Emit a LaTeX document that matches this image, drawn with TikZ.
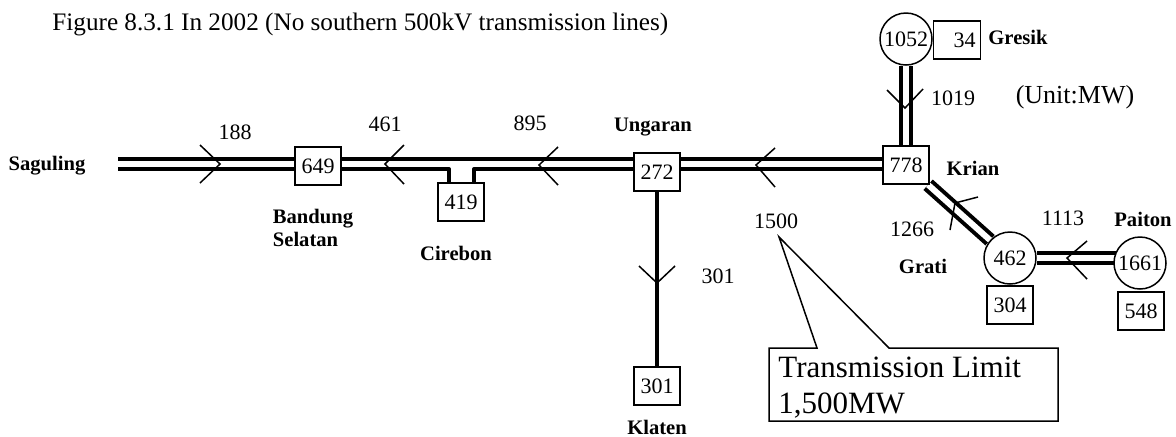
\documentclass[tikz,border=0pt]{standalone}
\usepackage{fontspec}
\setmainfont{Liberation Serif}
\usetikzlibrary{calc,backgrounds}
\begin{document}
\begin{tikzpicture}[x=0.5pt,y=-0.5pt,
  box/.style={draw,line width=0.75pt,fill=white,minimum width=23pt,minimum height=19pt,inner sep=0pt,font=\fontsize{11}{13}\selectfont},
  circ/.style={circle,draw,line width=0.75pt,fill=white,minimum size=26pt,inner sep=0pt,font=\fontsize{11}{13}\selectfont},
  lbl/.style={font=\fontsize{10.3}{11.5}\selectfont\bfseries, inner sep=0pt},
  num/.style={font=\fontsize{11}{13}\selectfont, inner sep=0pt},
  bus/.style={line width=2pt, line join=round},
  dbl/.style={double, line width=2pt, double distance=3pt},
  chev/.style={line width=0.75pt},
]
\useasboundingbox (0,0) rectangle (1176,436);
\node[anchor=base west, font=\fontsize{12.6}{15}\selectfont, inner sep=0pt] (title) at (52,30) {Figure 8.3.1 In 2002 (No southern 500kV transmission lines)};

\coordinate (sag) at (118,164);
\node[lbl] (lsag) at (47,166) {Saguling};
\node[box] (b649) at (318,166) {649};
\node[box] (b419) at (461,202) {419};
\node[box] (b272) at (657,172) {272};
\node[box] (b778) at (906,165) {778};
\node[circ] (c1052) at (906,39) {1052};
\node[box, inner xsep=2.5pt, text width=18.5pt, align=right] (b34) at (957,40) {34};
\node[circ] (c462) at (1010,258) {462};
\node[box] (b304) at (1010,305) {304};
\node[circ] (c1661) at (1140,263) {1661};
\node[box] (b548) at (1141,311) {548};
\node[box] (b301) at (657,386) {301};

\node[num] (n188) at (235,132) {188};
\node[num] (n461) at (385,124) {461};
\node[num] (n895) at (530,123) {895};
\node[lbl] (lung) at (653,127) {Ungaran};
\node[num] (n1500) at (776,221) {1500};
\node[num] (n301) at (718,276) {301};
\node[lbl] (lkla) at (657,427) {Klaten};
\node[lbl, align=left] (lband) at (313,228) {Bandung\\Selatan};
\node[lbl] (lcir) at (456,253) {Cirebon};
\node[lbl] (lkri) at (973,168) {Krian};
\node[lbl] (lgre) at (1018,37) {Gresik};
\node[num] (n1019) at (953,98) {1019};
\node[font=\fontsize{13}{15}\selectfont, inner sep=0pt] (unit) at (1075,97) {(Unit:MW)};
\node[num] (n1266) at (912,229) {1266};
\node[lbl] (lgra) at (923,266) {Grati};
\node[num] (n1113) at (1063,218) {1113};
\node[lbl] (lpai) at (1143,219) {Paiton};

\node[anchor=north west, align=left, inner sep=0pt, font=\fontsize{15.5}{18}\selectfont] (lim) at (778,357) {Transmission Limit\\1,500MW};
\coordinate (apex) at (779,237);
\coordinate (cnw) at (769,348);
\coordinate (cse) at (1058,421);
\draw[line width=0.75pt, line join=miter] (cnw) -- (817,348) -- (apex) -- (889,348) -- (cnw -| cse) -- (cse) -- (cse -| cnw) -- cycle;

\begin{scope}[on background layer]
\draw[bus] ($(sag)+(0,-5)$) -- ($(sag -| b778)+(0,-5)$);
\draw[bus] ($(sag)+(0,5)$) -- ($(sag -| b419)+(-12,5)$) -- ($(b419.north)+(-12,0)$);
\draw[bus] ($(b419.north)+(13,0)$) -- ($(sag -| b419)+(13,5)$) -- ($(sag -| b778)+(0,5)$);
\draw[dbl] (c1052) -- (b778);
\draw[dbl] (b778) -- (c462);
\draw[dbl] (c462) -- (c462 -| c1661);
\draw[line width=2.2pt] (b272) -- (b301);
\end{scope}

\draw[chev] (200,145) -- (220,164) -- (200,183);
\draw[chev] (404,145) -- (385,164) -- (404,184);
\draw[chev] (558,147) -- (539,165) -- (558,185);
\draw[chev] (775,148) -- (756,165) -- (775,187);
\draw[chev] (639,266) -- (657,283) -- (675,266);
\draw[chev] (887,90) -- (905,108) -- (923,89);
\draw[chev] (978,197) -- (955,203) -- (950,230);
\draw[chev] (1087,241) -- (1067,258) -- (1087,279);
\end{tikzpicture}
\end{document}
